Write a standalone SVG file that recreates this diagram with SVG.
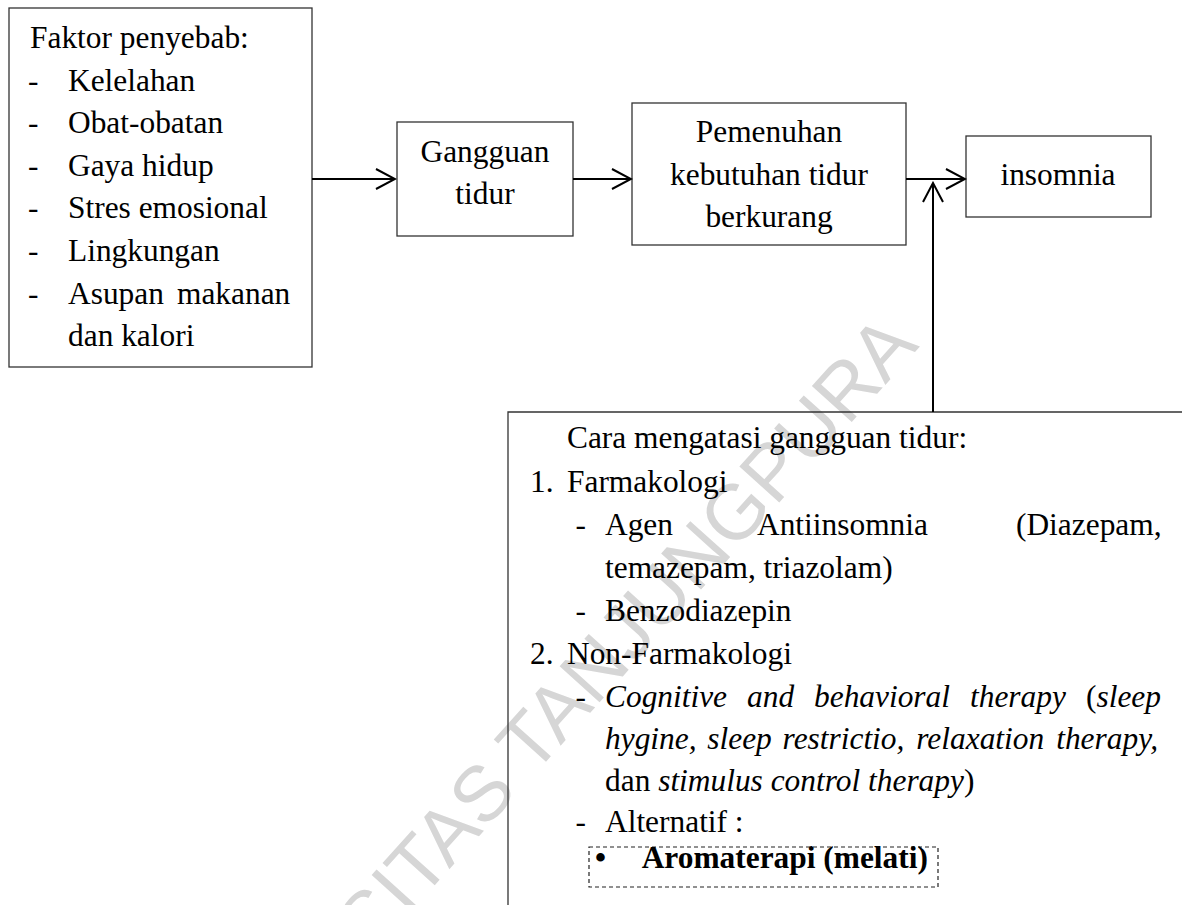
<svg xmlns="http://www.w3.org/2000/svg" width="1182" height="905" viewBox="0 0 1182 905">
<style>
.t{font-family:"Liberation Serif","Times New Roman",serif;font-size:31.4px;fill:#000}
.m{text-anchor:middle}
.i{font-style:italic}
.b{font-weight:bold}
.box{fill:none;stroke:#333;stroke-width:1.3}
.dash{fill:none;stroke:#222;stroke-width:1.2;stroke-dasharray:4 3}
.c{stroke:#000;stroke-width:2;fill:none}
.wm{font-family:"Liberation Sans",Arial,sans-serif;font-size:78px;fill:#d6d6d6}
</style>
<defs>
<marker id="ah" markerUnits="userSpaceOnUse" markerWidth="22" markerHeight="22" viewBox="0 0 22 22" refX="20" refY="11" orient="auto">
<path d="M1,1 L20,11 L1,21" fill="none" stroke="#000" stroke-width="2"/>
</marker>
</defs>
<rect width="1182" height="905" fill="#fff"/>
<text class="wm" x="372" y="955" transform="rotate(-48 372 955)">SITAS TANJUNGPURA</text>

<g id="faktor">
<rect class="box" x="9" y="8" width="303" height="359"/>
<text class="t" x="30" y="48">Faktor penyebab:</text>
<text class="t" x="28" y="90.6">-</text><text class="t" x="68" y="90.6">Kelelahan</text>
<text class="t" x="28" y="133.2">-</text><text class="t" x="68" y="133.2">Obat-obatan</text>
<text class="t" x="28" y="175.8">-</text><text class="t" x="68" y="175.8">Gaya hidup</text>
<text class="t" x="28" y="218.4">-</text><text class="t" x="68" y="218.4">Stres emosional</text>
<text class="t" x="28" y="261">-</text><text class="t" x="68" y="261">Lingkungan</text>
<text class="t" x="28" y="303.6">-</text><text class="t" x="68" y="303.6">Asupan</text><text class="t" x="177" y="303.6">makanan</text>
<text class="t" x="68" y="346.2">dan kalori</text>
</g>

<g id="gangguan">
<rect class="box" x="397" y="122" width="176" height="114"/>
<text class="t m" x="485" y="162">Gangguan</text>
<text class="t m" x="485" y="204">tidur</text>
</g>

<g id="pemenuhan">
<rect class="box" x="632" y="103" width="274" height="142"/>
<text class="t m" x="769" y="142">Pemenuhan</text>
<text class="t m" x="769" y="184.5">kebutuhan tidur</text>
<text class="t m" x="769" y="227">berkurang</text>
</g>

<g id="insomnia">
<rect class="box" x="966" y="136" width="185" height="81"/>
<text class="t m" x="1058" y="184.5">insomnia</text>
</g>

<g id="cara">
<path class="box" d="M1182,412 H508 V905"/>
<text class="t" x="567" y="448">Cara mengatasi gangguan tidur:</text>
<text class="t" x="530" y="491.5">1.</text><text class="t" x="567" y="491.5">Farmakologi</text>
<text class="t" x="575.5" y="535">-</text><text class="t" x="605" y="535">Agen</text><text class="t" x="757" y="535">Antiinsomnia</text><text class="t" x="1016" y="535">(Diazepam,</text>
<text class="t" x="605" y="578">temazepam, triazolam)</text>
<text class="t" x="575.5" y="621">-</text><text class="t" x="605" y="621">Benzodiazepin</text>
<text class="t" x="530" y="664">2.</text><text class="t" x="567" y="664">Non-Farmakologi</text>
<text class="t" x="575.5" y="707">-</text>
<text class="t i" x="605" y="707">Cognitive</text><text class="t i" x="747" y="707">and</text><text class="t i" x="814" y="707">behavioral</text><text class="t i" x="970" y="707">therapy</text>
<text class="t" x="1086" y="707">(<tspan class="i">sleep</tspan></text>
<text class="t i" x="605" y="749">hygine,</text><text class="t i" x="707.3" y="749">sleep</text><text class="t i" x="782.6" y="749">restrictio,</text><text class="t i" x="916.3" y="749">relaxation</text><text class="t i" x="1056.2" y="749">therapy,</text>
<text class="t" x="605" y="791">dan <tspan class="i">stimulus control therapy</tspan>)</text>
<text class="t" x="575.5" y="832">-</text><text class="t" x="605" y="832">Alternatif :</text>
<rect class="dash" x="589" y="847" width="349" height="40"/>
<text class="t b" x="595" y="868">•</text>
<text class="t b" x="641.7" y="868">Aromaterapi (melati)</text>
</g>

<g id="connectors">
<line class="c" x1="312" y1="179" x2="395" y2="179" marker-end="url(#ah)"/>
<line class="c" x1="573" y1="179" x2="631" y2="179" marker-end="url(#ah)"/>
<line class="c" x1="906" y1="179" x2="965" y2="179" marker-end="url(#ah)"/>
<line class="c" x1="933" y1="412" x2="933" y2="183" marker-end="url(#ah)"/>
</g>
</svg>
